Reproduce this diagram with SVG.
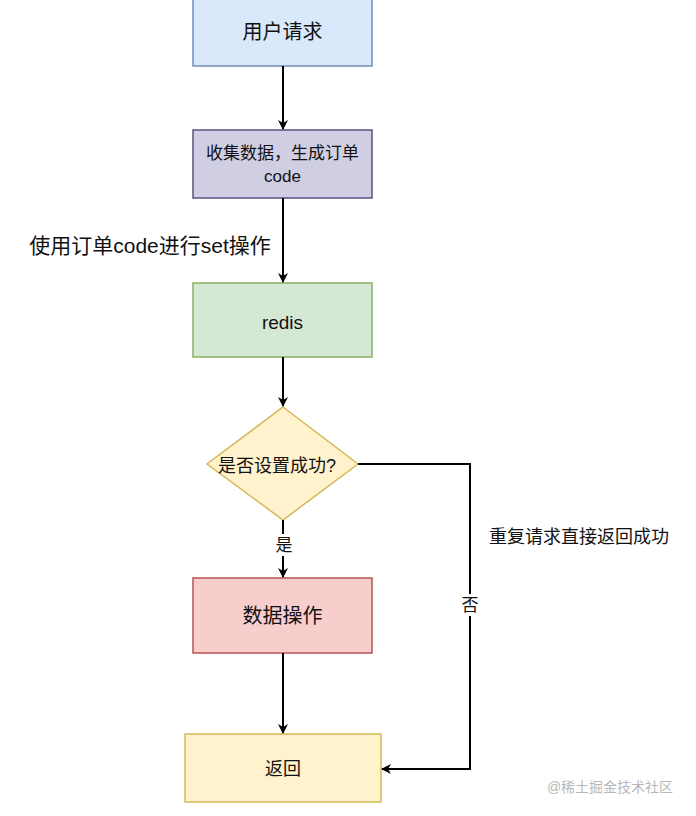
<svg xmlns="http://www.w3.org/2000/svg" width="696" height="816" viewBox="0 0 696 816">
<defs>
<marker id="arr" viewBox="0 0 10 10" refX="9" refY="5" markerWidth="10" markerHeight="10" markerUnits="userSpaceOnUse" orient="auto">
<path d="M0,0 L10,5 L0,10 L3,5 Z" fill="#000"/>
</marker>
<style>
text{font-family:"Liberation Sans","Noto Sans CJK SC",sans-serif;fill:#111;text-anchor:middle;dominant-baseline:central}
.c{stroke:#000;stroke-width:2;fill:none}
</style>
</defs>
<rect width="696" height="816" fill="#fff"/>
<g id="n1"><rect x="193" y="-2" width="179" height="68" fill="#dae8fc" stroke="#6c8ebf" stroke-width="1.5"/><text x="282.5" y="32" font-size="20">用户请求</text></g>
<g id="n2"><rect x="193" y="130" width="179" height="68" fill="#d0cee2" stroke="#56517e" stroke-width="1.5"/><text x="282.5" y="153" font-size="17">收集数据，生成订单</text><text x="282.5" y="176" font-size="17">code</text></g>
<g id="n3"><rect x="193" y="283" width="179" height="74" fill="#d5e8d4" stroke="#82b366" stroke-width="1.5"/><text x="282.5" y="322" font-size="19">redis</text></g>
<g id="n4"><path d="M283,407 L358,464 L283,520 L207,464 Z" fill="#fff2cc" stroke="#d6b656" stroke-width="1.5"/><text x="277" y="466" font-size="18">是否设置成功?</text></g>
<g id="n5"><rect x="193" y="578" width="179" height="75" fill="#f8cecc" stroke="#b85450" stroke-width="1.5"/><text x="282.5" y="616" font-size="20">数据操作</text></g>
<g id="n6"><rect x="185" y="734" width="196" height="68" fill="#fff2cc" stroke="#d6b656" stroke-width="1.5"/><text x="283" y="769" font-size="18">返回</text></g>
<g id="connectors">
<line class="c" x1="283" y1="66" x2="283" y2="129" marker-end="url(#arr)"/>
<line class="c" x1="283" y1="198" x2="283" y2="282" marker-end="url(#arr)"/>
<line class="c" x1="283" y1="357" x2="283" y2="406" marker-end="url(#arr)"/>
<line class="c" x1="283" y1="520" x2="283" y2="577" marker-end="url(#arr)"/>
<line class="c" x1="283" y1="653" x2="283" y2="733" marker-end="url(#arr)"/>
<path class="c" d="M358,464 L470,464 L470,769 L382,769" marker-end="url(#arr)"/>
<rect x="276" y="534" width="16" height="22" fill="#fff"/>
<text x="284" y="545" font-size="17">是</text>
<rect x="461" y="594" width="18" height="22" fill="#fff"/>
<text x="470" y="605" font-size="17">否</text>
<text x="150" y="245" font-size="21">使用订单code进行set操作</text>
<text x="579" y="537" font-size="18">重复请求直接返回成功</text>
</g>
<text x="610" y="787" font-size="14" style="fill:#b8b8b8">@稀土掘金技术社区</text>
</svg>
